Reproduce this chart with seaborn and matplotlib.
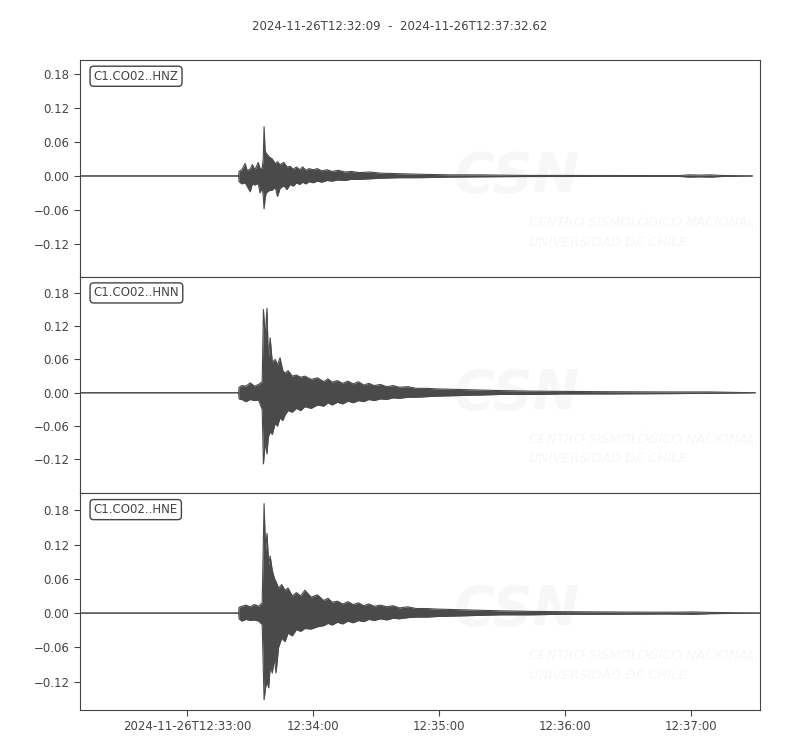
import numpy as np
import pandas as pd
import seaborn as sns
import matplotlib.pyplot as plt
import matplotlib.dates as mdates
from matplotlib.ticker import FixedLocator

# Trace start / end
start = pd.Timestamp("2024-11-26 12:32:09")
end = pd.Timestamp("2024-11-26 12:37:32.62")

channels = ["C1.CO02..HNZ", "C1.CO02..HNN", "C1.CO02..HNE"]

# Envelope of each trace: seconds after start, max and min (g)
hnz_t = [0, 75.5, 75.7, 77, 78.6, 79.5, 81, 82, 83.3, 84.8, 85.7, 86.7, 87.2, 87.6, 88.1,
         88.6, 90, 91.5, 92.9, 94, 95.2, 97, 98.5, 100, 101.5, 103, 104.5, 106, 107.5, 109,
         111, 113, 115, 117.5, 120, 123, 126, 129, 133, 138, 143, 152, 162, 176, 190,
         210, 248, 285, 290, 295, 300, 305, 320]
hnz_up = [0, 0, 0.008, 0.011, 0.022, 0.010, 0.012, 0.020, 0.011, 0.024, 0.013, 0.014, 0.030, 0.087, 0.045,
          0.040, 0.034, 0.030, 0.022, 0.025, 0.020, 0.024, 0.016, 0.017, 0.012, 0.016, 0.011, 0.016, 0.010, 0.013,
          0.011, 0.013, 0.009, 0.011, 0.008, 0.010, 0.007, 0.008, 0.006, 0.007, 0.005, 0.004, 0.003, 0.002, 0.002,
          0.001, 0.0008, 0.0007, 0.002, 0.0015, 0.002, 0.001, 0]
hnz_lo = [0, 0, -0.010, -0.014, -0.012, -0.018, -0.028, -0.014, -0.016, -0.013, -0.030, -0.020, -0.035, -0.058, -0.040,
          -0.030, -0.026, -0.025, -0.020, -0.036, -0.022, -0.017, -0.024, -0.015, -0.018, -0.012, -0.015, -0.011, -0.014, -0.010,
          -0.012, -0.009, -0.011, -0.008, -0.009, -0.007, -0.008, -0.006, -0.006, -0.005, -0.004, -0.003, -0.003, -0.002, -0.0015,
          -0.001, -0.0008, -0.0007, -0.002, -0.0015, -0.002, -0.001, 0]

hnn_t = [0, 75.5, 75.7, 77, 79, 81, 83, 85, 86.7, 87.3, 88.1, 89.0, 89.6, 90.5, 91.5,
         92.9, 94, 95.2, 96.5, 97.6, 99, 101, 103, 105, 107, 110, 113, 116, 118, 120,
         122.5, 125, 127.5, 130, 132.5, 135, 137.5, 140, 143, 146, 149, 152, 156, 160, 165,
         170, 180, 190, 200, 215, 230, 250, 280, 300, 321.4]
hnn_up = [0, 0, 0.010, 0.013, 0.012, 0.018, 0.012, 0.015, 0.020, 0.150, 0.100, 0.152, 0.060, 0.099, 0.055,
          0.060, 0.050, 0.063, 0.040, 0.035, 0.040, 0.030, 0.032, 0.028, 0.030, 0.024, 0.027, 0.020, 0.025, 0.019,
          0.022, 0.017, 0.021, 0.016, 0.020, 0.014, 0.017, 0.013, 0.015, 0.011, 0.013, 0.010, 0.011, 0.008, 0.008,
          0.007, 0.006, 0.005, 0.004, 0.003, 0.0025, 0.002, 0.0015, 0.0015, 0]
hnn_lo = [0, 0, -0.011, -0.012, -0.016, -0.012, -0.014, -0.013, -0.030, -0.128, -0.090, -0.110, -0.080, -0.070, -0.075,
          -0.055, -0.060, -0.045, -0.050, -0.040, -0.032, -0.035, -0.028, -0.032, -0.025, -0.028, -0.022, -0.024, -0.018, -0.022,
          -0.017, -0.020, -0.015, -0.018, -0.014, -0.016, -0.012, -0.014, -0.011, -0.012, -0.009, -0.010, -0.008, -0.008, -0.007,
          -0.006, -0.005, -0.004, -0.003, -0.003, -0.002, -0.002, -0.0015, -0.001, 0]

hne_t = [0, 75.5, 75.7, 77, 79, 81, 83, 85, 86.7, 87.6, 88.3, 89.0, 89.8, 90.5, 91.5,
         92.5, 93.3, 94.5, 96, 97.6, 99, 101, 103, 105, 107, 110, 113, 116, 118, 120,
         122.5, 125, 127.5, 130, 132.5, 135, 137.5, 140, 143, 146, 149, 152, 156, 160, 165,
         170, 180, 190, 200, 215, 230, 250, 280, 292, 300, 323.6]
hne_up = [0, 0, 0.010, 0.012, 0.014, 0.011, 0.015, 0.012, 0.018, 0.192, 0.110, 0.140, 0.085, 0.100, 0.075,
          0.061, 0.055, 0.044, 0.050, 0.040, 0.044, 0.030, 0.036, 0.030, 0.040, 0.028, 0.032, 0.022, 0.026, 0.019,
          0.021, 0.016, 0.020, 0.015, 0.018, 0.013, 0.016, 0.012, 0.014, 0.011, 0.013, 0.009, 0.011, 0.008, 0.008,
          0.007, 0.006, 0.005, 0.004, 0.003, 0.0025, 0.002, 0.0015, 0.002, 0.0012, 0]
hne_lo = [0, 0, -0.010, -0.014, -0.011, -0.013, -0.012, -0.014, -0.020, -0.152, -0.131, -0.120, -0.131, -0.095, -0.105,
          -0.080, -0.105, -0.060, -0.044, -0.050, -0.035, -0.040, -0.029, -0.032, -0.027, -0.028, -0.024, -0.022, -0.018, -0.021,
          -0.016, -0.019, -0.014, -0.017, -0.013, -0.015, -0.011, -0.013, -0.010, -0.012, -0.009, -0.010, -0.008, -0.007, -0.007,
          -0.006, -0.005, -0.004, -0.003, -0.003, -0.002, -0.002, -0.0015, -0.002, -0.001, 0]

traces = [(hnz_t, hnz_up, hnz_lo), (hnn_t, hnn_up, hnn_lo), (hne_t, hne_up, hne_lo)]
ylims = [(-0.178, 0.205), (-0.181, 0.209), (-0.170, 0.210)]
yticks = [-0.12, -0.06, 0.0, 0.06, 0.12, 0.18]

sns.set_style("ticks")
plt.rcParams['font.family'] = ['DejaVu Sans']
plt.rcParams['font.size'] = 8.5
plt.rcParams['text.color'] = '#444444'
plt.rcParams['xtick.color'] = '#444444'
plt.rcParams['ytick.color'] = '#444444'
plt.rcParams['axes.edgecolor'] = '#444444'

trace_color = '#4a4a4a'

fig, axes = plt.subplots(3, 1, figsize=(8, 7.5), dpi=100, sharex=True)
fig.subplots_adjust(left=0.1, right=0.95, top=0.92, bottom=0.0533, hspace=0)

for ax, name, (t, up, lo), ylim in zip(axes, channels, traces, ylims):
    df = pd.DataFrame({
        'time': start + pd.to_timedelta(t, unit='s'),
        'up': up,
        'lo': lo,
    })
    ax.fill_between(df['time'], df['lo'], df['up'], color=trace_color, lw=0)
    sns.lineplot(data=df, x='time', y='up', ax=ax, color=trace_color, lw=0.8)
    sns.lineplot(data=df, x='time', y='lo', ax=ax, color=trace_color, lw=0.8)

    # faint CSN watermark
    ax.text(0.55, 0.46, 'CSN', transform=ax.transAxes, fontsize=40, fontweight='bold',
            style='italic', color='#f7f7f7', ha='left', va='center', zorder=0, clip_on=True)
    ax.text(0.66, 0.25, 'CENTRO SISMOLÓGICO NACIONAL', transform=ax.transAxes, fontsize=9.5,
            style='italic', color='#f6f6f6', ha='left', va='center', zorder=0, clip_on=True)
    ax.text(0.66, 0.16, 'UNIVERSIDAD DE CHILE', transform=ax.transAxes, fontsize=9.5,
            style='italic', color='#f6f6f6', ha='left', va='center', zorder=0, clip_on=True)

    ax.text(0.02, 0.925, name, transform=ax.transAxes, fontsize=8.5, color='#444444',
            ha='left', va='center',
            bbox=dict(boxstyle='round,pad=0.3', fc='white', ec='#444444', lw=1))

    ax.set_ylim(*ylim)
    ax.yaxis.set_major_locator(FixedLocator(yticks))
    ax.yaxis.set_major_formatter(plt.FuncFormatter(lambda v, p: f'{v:.2f}'.replace('-', '\u2212')))
    ax.set_xlabel('')
    ax.set_ylabel('')
    ax.tick_params(axis='y', length=4, width=0.8, labelsize=8.5)
    for s in ax.spines.values():
        s.set_visible(True)
        s.set_linewidth(0.8)

for ax in axes[:-1]:
    ax.tick_params(axis='x', length=0, labelbottom=False)

ax = axes[-1]
ax.set_xlim(start, end)
ax.xaxis.set_major_locator(mdates.MinuteLocator())


def fmt_time(x, pos=None):
    d = mdates.num2date(x)
    if pos == 0:
        return d.strftime('%Y-%m-%dT%H:%M:%S')
    return d.strftime('%H:%M:%S')


ax.xaxis.set_major_formatter(plt.FuncFormatter(fmt_time))
ax.tick_params(axis='x', length=4, width=0.8, labelsize=8.5)

fig.suptitle('2024-11-26T12:32:09  -  2024-11-26T12:37:32.62', fontsize=8.5,
             color='#444444', y=0.973)

fig.savefig('out.png', dpi=100)
